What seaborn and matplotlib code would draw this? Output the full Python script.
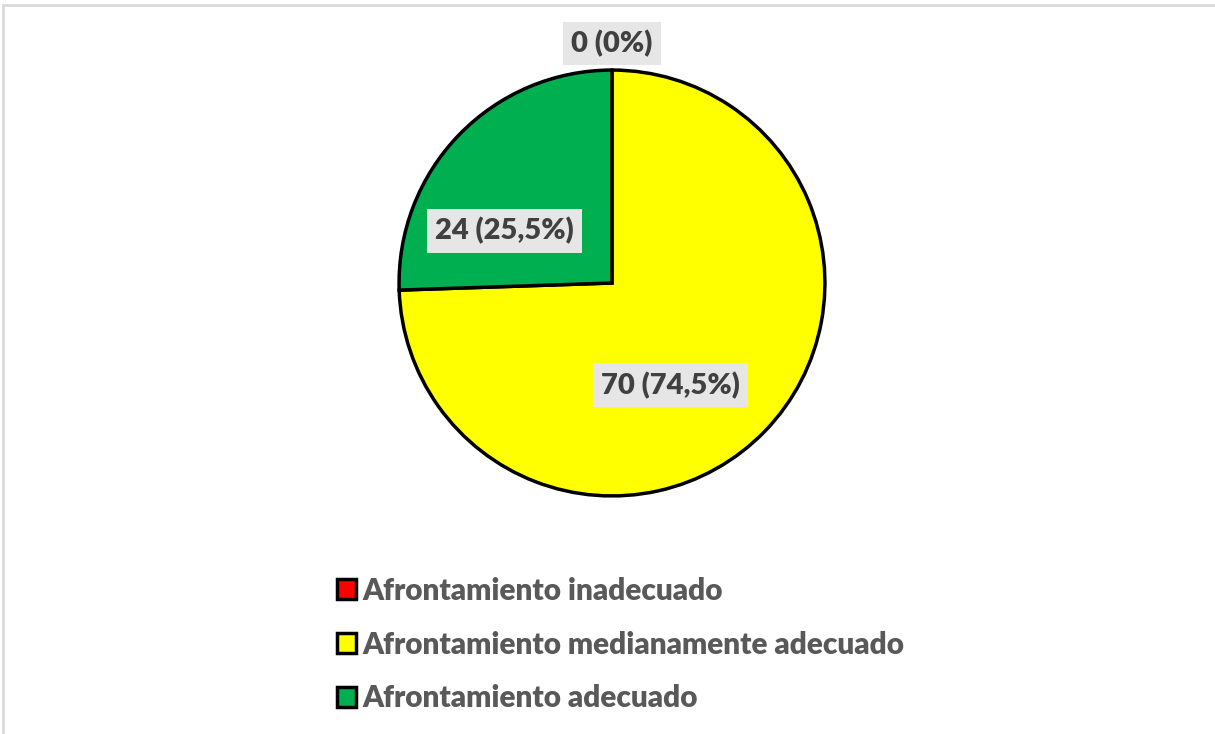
import seaborn as sns
import matplotlib.pyplot as plt
from matplotlib.patches import Rectangle

sns.set_theme(style="white")
plt.rcParams['font.family'] = ['Lato', 'DejaVu Sans']

# data
categories = ['Afrontamiento inadecuado',
              'Afrontamiento medianamente adecuado',
              'Afrontamiento adecuado']
counts = [0, 70, 24]
pct_labels = ['0 (0%)', '70 (74,5%)', '24 (25,5%)']
colors = ['#FF0000', '#FFFF00', '#00B050']

# where Excel put the data labels (x, y in pie units)
label_pos = [(0.0, 1.125), (0.275, -0.48), (-0.507, 0.245)]

W, H = 1215, 734
fig = plt.figure(figsize=(W / 100, H / 100), dpi=100)

# light gray frame (only top/left visible in the original crop)
fig.patches.append(Rectangle((3 / W, -0.01), 1.2, 1 - 5 / H + 0.01,
                             transform=fig.transFigure, fill=False,
                             edgecolor='#d9d9d9', linewidth=2))

ax = fig.add_axes([398 / W, (H - 497) / H, 428 / W, 428 / H])
wedges, _ = ax.pie(counts, colors=colors, startangle=90, counterclock=False,
                   radius=1, wedgeprops=dict(edgecolor='black', linewidth=2.5))
ax.set_xlim(-1.005, 1.005)
ax.set_ylim(-1.005, 1.005)
ax.set_aspect('equal')
ax.axis('off')

for txt, (x, y) in zip(pct_labels, label_pos):
    ax.text(x, y, txt, ha='center', va='center', fontsize=21, fontweight='heavy',
            color='#404040', clip_on=False,
            bbox=dict(boxstyle='square,pad=0.28', facecolor='#e6e6e6', edgecolor='none'))

leg = fig.legend(wedges, categories, loc='upper left',
                 bbox_to_anchor=(310 / W, 1 - 550 / H), frameon=False,
                 prop=dict(size=21.4, weight='heavy'), labelcolor='#595959',
                 handlelength=0.65, handleheight=0.65, handletextpad=0.2,
                 labelspacing=0.87)
for h in leg.legend_handles:
    h.set_linewidth(2.5)
    h.set_edgecolor('black')

fig.savefig('out.png', dpi=100)
